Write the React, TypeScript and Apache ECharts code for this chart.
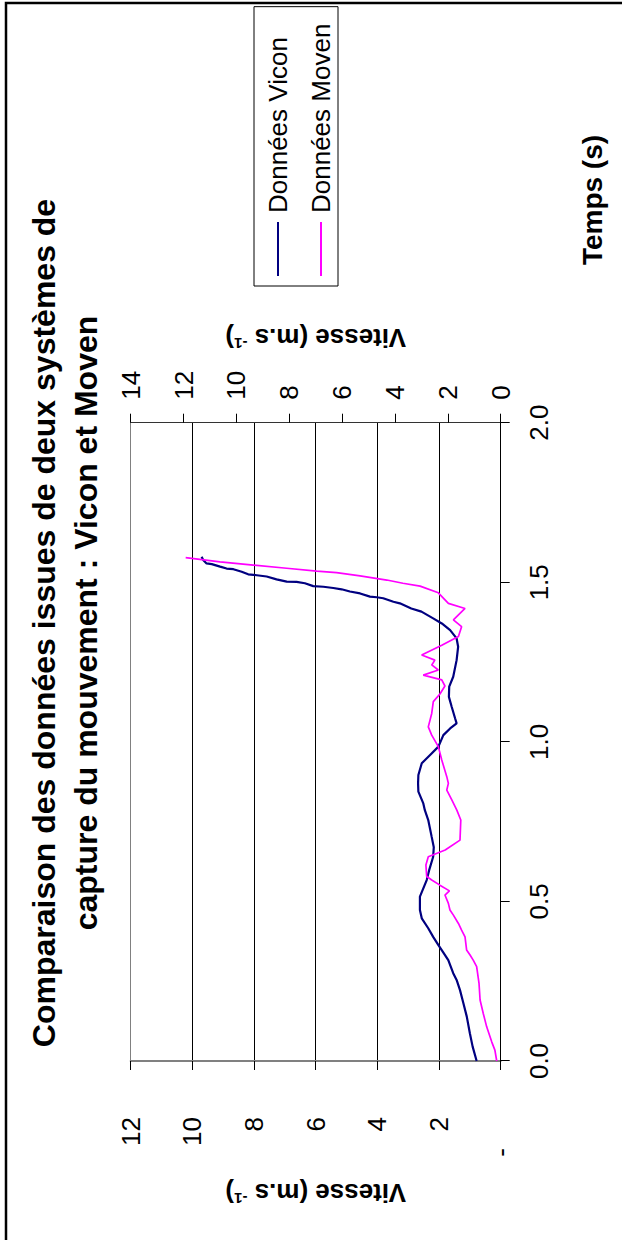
import React, { useEffect, useRef } from 'react';
import * as echarts from 'echarts';

const FONT = "'Liberation Sans', Arial, Helvetica, sans-serif";

const titleLines = [
  'Comparaison des données issues de deux systèmes de',
  'capture du mouvement : Vicon et Moven',
];
const seriesNames = ['Données Vicon', 'Données Moven'];
const timeAxisName = 'Temps (s)';

// Temps (s) / vitesse (axe principal, m.s-1)
const viconTime = [
  0, 0.045, 0.087, 0.139, 0.181, 0.222, 0.254, 0.275, 0.316, 0.343, 0.363, 0.389, 0.416, 0.447,
  0.473, 0.515, 0.541, 0.567, 0.598, 0.64, 0.67, 0.703, 0.755, 0.786, 0.807, 0.844, 0.87, 0.896,
  0.933, 0.959, 0.985, 1.021, 1.042, 1.058, 1.074, 1.11, 1.141, 1.173, 1.204, 1.256, 1.298, 1.324,
  1.35, 1.371, 1.387, 1.408, 1.418, 1.434, 1.439, 1.45, 1.453, 1.455, 1.465, 1.471, 1.478, 1.482,
  1.486, 1.488, 1.497, 1.501, 1.502, 1.509, 1.518, 1.522, 1.525, 1.533, 1.541, 1.543, 1.549,
  1.557, 1.559, 1.57, 1.58,
];
const viconSpeed = [
  0.78, 0.91, 1.0, 1.1, 1.21, 1.32, 1.43, 1.54, 1.7, 1.88, 2.02, 2.19, 2.35, 2.56,
  2.62, 2.62, 2.51, 2.4, 2.32, 2.19, 2.17, 2.24, 2.35, 2.46, 2.51, 2.67, 2.68, 2.67,
  2.56, 2.29, 2.02, 1.86, 1.64, 1.43, 1.48, 1.59, 1.68, 1.67, 1.54, 1.43, 1.38, 1.43,
  1.64, 1.91, 2.19, 2.57, 2.9, 3.27, 3.48, 3.81, 4.02, 4.24, 4.56, 4.89, 5.16, 5.43,
  5.75, 6.08, 6.35, 6.62, 6.94, 7.27, 7.59, 7.91, 8.19, 8.4, 8.67, 8.89, 9.1,
  9.37, 9.54, 9.65, 9.7,
];

// Temps (s) / vitesse (axe secondaire, m.s-1)
const movenTime = [
  0, 0.034, 0.06, 0.107, 0.149, 0.191, 0.243, 0.296, 0.316, 0.332, 0.348, 0.389, 0.41, 0.431,
  0.457, 0.473, 0.494, 0.52, 0.533, 0.551, 0.567, 0.578, 0.614, 0.64, 0.661, 0.692, 0.755, 0.786,
  0.818, 0.849, 0.87, 0.891, 0.943, 0.985, 1.021, 1.047, 1.089, 1.126, 1.15, 1.175, 1.194, 1.209,
  1.225, 1.241, 1.256, 1.272, 1.303, 1.33, 1.361, 1.382, 1.418, 1.434, 1.467, 1.488, 1.497, 1.507,
  1.52, 1.53, 1.535, 1.544, 1.554, 1.564, 1.577,
];
const movenSpeed = [
  0.15, 0.22, 0.34, 0.53, 0.66, 0.78, 0.82, 0.91, 1.04, 1.16, 1.29, 1.35, 1.48, 1.6,
  1.79, 1.92, 1.98, 2.11, 1.94, 2.3, 2.61, 2.8, 2.83, 2.74, 2.1, 1.54, 1.51, 1.66,
  1.85, 2.04, 1.98, 2.04, 2.23, 2.36, 2.61, 2.74, 2.61, 2.55, 2.3, 2.11, 2.23, 2.93,
  2.36, 2.61, 2.49, 2.99, 2.23, 1.6, 1.48, 1.79, 1.35, 1.98, 2.36, 3.05, 3.7, 4.31,
  5.32, 6.21, 6.96, 8.1, 9.36, 10.62, 11.92,
];

const timeRange = [0, 2, 0.5];
const leftRange = [0, 12, 2];
const rightRange = [0, 14, 2];

const speedName = 'Vitesse (m.s {sup|-1})';

function buildOption() {
  const nameStyle = {
    fontFamily: FONT,
    fontSize: 26,
    fontWeight: 'bold',
    color: '#000',
    rich: {
      sup: { fontFamily: FONT, fontSize: 15, fontWeight: 'bold', color: '#000', verticalAlign: 'top' },
    },
  };
  const labelStyle = { fontFamily: FONT, fontSize: 26, color: '#000' };
  return {
    animation: false,
    backgroundColor: '#fff',
    textStyle: { fontFamily: FONT },
    title: {
      text: titleLines.join('\n'),
      left: 617,
      top: 23,
      padding: 0,
      textAlign: 'center',
      textStyle: { fontFamily: FONT, fontSize: 32, fontWeight: 'bold', color: '#000', lineHeight: 42 },
    },
    legend: {
      data: seriesNames,
      orient: 'vertical',
      left: 954,
      top: 254,
      padding: [11, 17, 4, 10],
      itemGap: 17,
      itemWidth: 54,
      itemHeight: 2,
      icon: 'rect',
      borderColor: '#000',
      borderWidth: 1,
      backgroundColor: '#fff',
      textStyle: { fontFamily: FONT, fontSize: 26, color: '#000', padding: [0, 0, 0, 4] },
    },
    grid: {
      left: 179,
      right: 422.7,
      top: 130.7,
      bottom: 121.3,
      containLabel: false,
      outerBoundsMode: 'none',
    },
    xAxis: {
      type: 'value',
      min: timeRange[0],
      max: timeRange[1],
      interval: timeRange[2],
      axisLine: { show: true, lineStyle: { color: '#000', width: 1 } },
      axisTick: { show: true, length: 9, lineStyle: { color: '#000', width: 1 } },
      axisLabel: {
        ...labelStyle,
        margin: 25,
        showMinLabel: true,
        showMaxLabel: true,
        formatter: (v: number) => v.toFixed(1),
      },
      splitLine: { show: false },
    },
    yAxis: [
      {
        type: 'value',
        position: 'left',
        min: leftRange[0],
        max: leftRange[1],
        interval: leftRange[2],
        name: speedName,
        nameLocation: 'middle',
        nameGap: 119,
        nameTextStyle: nameStyle,
        axisLine: { show: true, lineStyle: { color: '#808080', width: 2 } },
        axisTick: { show: true, length: 9, lineStyle: { color: '#000', width: 1 } },
        axisLabel: {
          ...labelStyle,
          margin: 56,
          showMinLabel: true,
          showMaxLabel: true,
          formatter: (v: number) => (v === 0 ? '{z|-}' : String(v)),
          rich: { z: { fontFamily: FONT, fontSize: 26, color: '#000', padding: [0, 31, 0, 0] } },
        },
        splitLine: {
          show: true,
          lineStyle: { color: ['#000', '#000', '#000', '#000', '#000', '#000', '#808080'], width: 1 },
        },
      },
      {
        type: 'value',
        position: 'right',
        min: rightRange[0],
        max: rightRange[1],
        interval: rightRange[2],
        name: speedName,
        nameLocation: 'middle',
        nameGap: 72,
        nameTextStyle: nameStyle,
        axisLine: { show: true, lineStyle: { color: '#333', width: 1 } },
        axisTick: { show: true, length: 9, lineStyle: { color: '#000', width: 1 } },
        axisLabel: { ...labelStyle, margin: 23, showMinLabel: true, showMaxLabel: true },
        splitLine: { show: false },
      },
    ],
    graphic: [
      {
        type: 'text',
        x: 1040,
        y: 592,
        style: {
          text: timeAxisName,
          align: 'center',
          verticalAlign: 'middle',
          fontFamily: FONT,
          fontSize: 28,
          fontWeight: 'bold',
          fill: '#000',
        },
      },
      {
        type: 'polyline',
        shape: { points: [[-5, 6], [1237, 6], [1237, 630]] },
        style: { stroke: '#000', lineWidth: 2.5, fill: 'none' },
        silent: true,
      },
    ],
    series: [
      {
        name: seriesNames[0],
        type: 'line',
        yAxisIndex: 0,
        data: viconTime.map((t, i) => [t, viconSpeed[i]]),
        symbol: 'none',
        showSymbol: false,
        lineStyle: { color: '#000080', width: 2.2 },
        itemStyle: { color: '#000080' },
        z: 3,
      },
      {
        name: seriesNames[1],
        type: 'line',
        yAxisIndex: 1,
        data: movenTime.map((t, i) => [t, movenSpeed[i]]),
        symbol: 'none',
        showSymbol: false,
        lineStyle: { color: '#FF00FF', width: 1.7 },
        itemStyle: { color: '#FF00FF' },
        z: 4,
      },
    ],
  };
}

export default function App() {
  const ref = useRef<HTMLDivElement>(null);
  useEffect(() => {
    if (!ref.current) return;
    const chart = echarts.init(ref.current, null, { renderer: 'svg', width: 1240, height: 622 });
    chart.setOption(buildOption() as any);
    return () => chart.dispose();
  }, []);
  return (
    <div
      style={{
        position: 'absolute',
        left: 0,
        top: 0,
        width: 622,
        height: 1240,
        overflow: 'hidden',
        background: '#fff',
      }}
    >
      <div
        ref={ref}
        style={{
          position: 'absolute',
          left: 0,
          top: 0,
          width: 1240,
          height: 622,
          transformOrigin: '0 0',
          transform: 'translateY(1240px) rotate(-90deg)',
        }}
      />
    </div>
  );
}
